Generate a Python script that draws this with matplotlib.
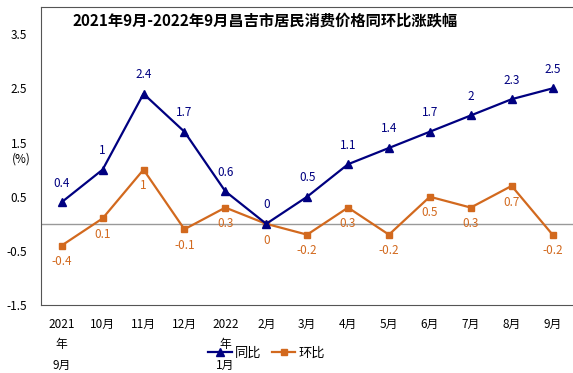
import matplotlib.pyplot as plt
import numpy as np

plt.rcParams['font.family'] = ['Noto Sans CJK SC', 'DejaVu Sans']

# 数据
months = ['2021\n年\n9月', '10月', '11月', '12月', '2022\n年\n1月', '2月', '3月',
          '4月', '5月', '6月', '7月', '8月', '9月']
tongbi = [0.4, 1, 2.4, 1.7, 0.6, 0, 0.5, 1.1, 1.4, 1.7, 2, 2.3, 2.5]
huanbi = [-0.4, 0.1, 1, -0.1, 0.3, 0, -0.2, 0.3, -0.2, 0.5, 0.3, 0.7, -0.2]
yticks = [-1.5, -0.5, 0.5, 1.5, 2.5, 3.5]

c_tb = '#000080'
c_hb = '#D2691E'

fig = plt.figure(figsize=(5.73, 3.73), dpi=100)
ax = fig.add_axes([0.072, 0.182, 0.928, 0.799])

x = np.arange(len(months))
ax.axhline(0, color='#999999', lw=1, zorder=1)
ax.plot(x, tongbi, color=c_tb, marker='^', ms=6, lw=1.6, label='同比', zorder=3)
ax.plot(x, huanbi, color=c_hb, marker='s', ms=5, lw=1.6, label='环比', zorder=2)

for i in x:
    ax.annotate(f'{tongbi[i]:g}', (i, tongbi[i]), xytext=(0, 9), textcoords='offset points',
                ha='center', va='bottom', color=c_tb, fontsize=8.5)
    ax.annotate(f'{huanbi[i]:g}', (i, huanbi[i]), xytext=(0, -7), textcoords='offset points',
                ha='center', va='top', color=c_hb, fontsize=8.5)

ax.set_xlim(-0.5, 12.5)
ax.set_ylim(-1.5, 4.0)
ax.set_yticks(yticks)
ax.set_yticklabels([f'{v:g}' for v in yticks])
ax.set_xticks(x)
ax.set_xticklabels(months, linespacing=1.75)
ax.tick_params(axis='x', length=0, labelsize=8.5, pad=9)
ax.tick_params(axis='y', length=0, labelsize=8.5, pad=10)
for s in ['left', 'top', 'bottom']:
    ax.spines[s].set_color('#555555')
ax.spines['right'].set_visible(False)

ax.text(-0.037, 0.49, '(%)', transform=ax.transAxes, fontsize=8.5, ha='center', va='center')
ax.set_title('2021年9月-2022年9月昌吉市居民消费价格同环比涨跌幅', fontsize=11,
             fontweight='bold', y=0.91, x=0.42)

fig.legend(loc='center', bbox_to_anchor=(0.465, 0.052), ncol=2, frameon=False, fontsize=9.5,
           handlelength=1.8, columnspacing=0.8, handletextpad=0.2)

fig.savefig('out.png', dpi=100)
